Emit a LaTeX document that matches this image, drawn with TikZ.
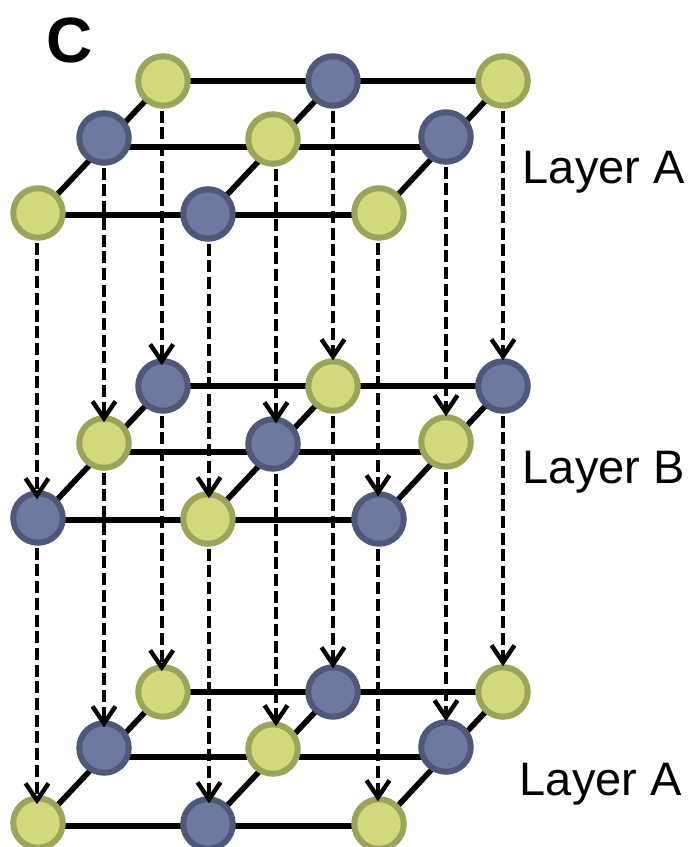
\documentclass[tikz,border=0pt]{standalone}
\usepackage{fontspec}
\setmainfont{Liberation Sans}
\usetikzlibrary{arrows.meta,backgrounds}
\definecolor{yelfill}{HTML}{D2D97C}
\definecolor{yeledge}{HTML}{9CA35A}
\definecolor{blufill}{HTML}{6E799F}
\definecolor{bluedge}{HTML}{4F5878}
\tikzset{
  atom/.style={circle,minimum size=49.5pt,inner sep=0pt,line width=6pt},
  yel/.style={atom,draw=yeledge,fill=yelfill},
  blu/.style={atom,draw=bluedge,fill=blufill},
  bond/.style={draw=black,line width=5.6pt},
  drop/.style={draw=black,line width=4.4pt,dash pattern=on 12pt off 4.7pt,
    -{Straight Barb[length=17pt,width=23pt,line width=4.4pt]}},
  lab/.style={anchor=base west,inner sep=0pt,font=\fontsize{47}{50}\selectfont},
  panel/.style={anchor=base west,inner sep=0pt,font=\bfseries\fontsize{64}{70}\selectfont}
}
\begin{document}
\begin{tikzpicture}[x=1pt,y=1pt]
\useasboundingbox (0,0) rectangle (689,-847);
\clip (0,0) rectangle (689,-847);
% levels of the grid lines
\coordinate (abl) at (0,-81);
\coordinate (aml) at (0,-147);
\coordinate (afl) at (0,-215);
\coordinate (bbl) at (0,-386);
\coordinate (bml) at (0,-452);
\coordinate (bfl) at (0,-520);
\coordinate (cbl) at (0,-692);
\coordinate (cml) at (0,-757);
\coordinate (cfl) at (0,-826);
% Layer A (top)
\node[yel] (ab1) at (163,-81) {};
\node[blu] (ab2) at (333,-81) {};
\node[yel] (ab3) at (503,-81) {};
\node[blu] (am1) at (104,-138) {};
\node[yel] (am2) at (273,-139) {};
\node[blu] (am3) at (446,-137) {};
\node[yel] (af1) at (38,-213) {};
\node[blu] (af2) at (208,-214) {};
\node[yel] (af3) at (379,-213) {};
% Layer B
\node[blu] (bb1) at (163,-386) {};
\node[yel] (bb2) at (333,-386) {};
\node[blu] (bb3) at (503,-386) {};
\node[yel] (bm1) at (104,-443) {};
\node[blu] (bm2) at (273,-444) {};
\node[yel] (bm3) at (446,-442) {};
\node[blu] (bf1) at (38,-518) {};
\node[yel] (bf2) at (208,-519) {};
\node[blu] (bf3) at (379,-519) {};
% Layer A (bottom)
\node[yel] (cb1) at (163,-692) {};
\node[blu] (cb2) at (333,-692) {};
\node[yel] (cb3) at (503,-692) {};
\node[blu] (cm1) at (104,-748) {};
\node[yel] (cm2) at (273,-749) {};
\node[blu] (cm3) at (446,-747) {};
\node[yel] (cf1) at (38,-823) {};
\node[blu] (cf2) at (208,-824) {};
\node[yel] (cf3) at (379,-824) {};
\begin{pgfonlayer}{background}
  \foreach \lay in {a,b,c}{
    \draw[bond] (\lay b1.center |- \lay bl) -- (\lay b3.center |- \lay bl);
    \draw[bond] (\lay m1.center |- \lay ml) -- (\lay m3.center |- \lay ml);
    \draw[bond] (\lay f1.center |- \lay fl) -- (\lay f3.center |- \lay fl);
    \foreach \k in {1,2,3}{
      \draw[bond] (\lay f\k.center |- \lay fl) -- ([yshift=-1pt]\lay b\k.center);
    }
  }
\end{pgfonlayer}
\foreach \src/\tgt/\dx/\ov in {
  ab1/bb1/-1.3/7, ab2/bb2/0/2, ab3/bb3/0/2,
  am1/bm1/0/7, am2/bm2/3/7, am3/bm3/0/2,
  af1/bf1/-1/9, af2/bf2/1/7, af3/bf3/-1/5,
  bb1/cb1/-1.3/7, bb2/cb2/0/4, bb3/cb3/0/2,
  bm1/cm1/0/7, bm2/cm2/3/5, bm3/cm3/0/2,
  bf1/cf1/-1/9, bf2/cf2/1/7, bf3/cf3/-1/5}{
  \draw[drop,shorten <=2pt,shorten >=-\ov pt] ([xshift=\dx pt]\src.south) -- ([xshift=\dx pt]\tgt.north);
}
\node[panel] (title) at (46,-62) {C};
\node[lab] (la1) at (522.6,-183) {Layer A};
\node[lab] (lb) at (522.6,-483) {Layer B};
\node[lab] (la2) at (519.6,-795) {Layer A};
\end{tikzpicture}
\end{document}
